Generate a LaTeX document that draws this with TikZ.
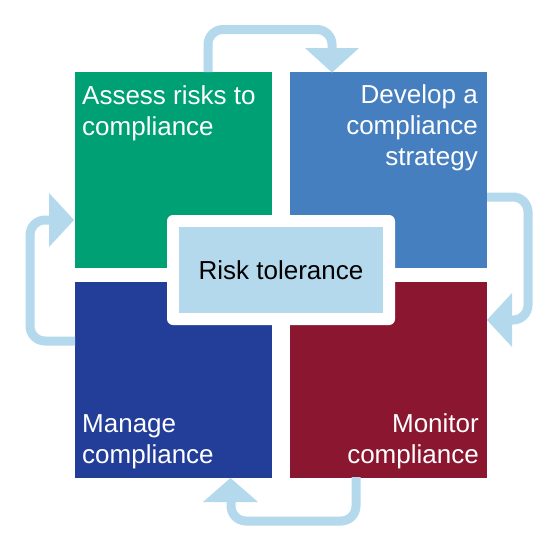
\documentclass[tikz,border=0pt]{standalone}
\usepackage{fontspec}
\setmainfont{Liberation Sans}
\definecolor{cgreen}{RGB}{0,160,117}
\definecolor{cblue}{RGB}{70,127,192}
\definecolor{cnavy}{RGB}{35,62,152}
\definecolor{cred}{RGB}{138,22,48}
\definecolor{clight}{RGB}{180,217,236}
\begin{document}
\begin{tikzpicture}[x=1pt,y=-1pt,
  quad/.style={minimum width=197pt,minimum height=196pt,inner sep=0pt,draw=none},
  lbl/.style={text=white,inner sep=0pt,font=\fontsize{26pt}{31pt}\selectfont},
  flow/.style={draw=clight,line width=9pt,rounded corners=15pt},
  head/.style={fill=clight,draw=none}]
\useasboundingbox (0,0) rectangle (560,552);
\fill[white] (0,0) rectangle (560,552);
% quadrants
\node[quad,fill=cgreen] (assess) at (173.5,170) {};
\node[quad,fill=cblue] (develop) at (388.5,170) {};
\node[quad,fill=cnavy] (manage) at (173.5,379.5) {};
\node[quad,fill=cred] (monitor) at (388.5,379.5) {};
% labels (anchored at the baseline of the last line)
\node[lbl,anchor=base west,align=left] (t1) at (82,135) {Assess risks to\\compliance};
\node[lbl,anchor=base east,align=right] (t2) at (478,165) {Develop a\\compliance\\strategy};
\node[lbl,anchor=base west,align=left] (t3) at (82,463) {Manage\\compliance};
\node[lbl,anchor=base east,align=right] (t4) at (479,463) {Monitor\\compliance};
% centre
\node[fill=white,rounded corners=6pt,minimum width=228pt,minimum height=110pt,inner sep=0pt] (frame) at (281,270) {};
\node[fill=clight,minimum width=204pt,minimum height=86pt,inner sep=0pt,text=black,font=\fontsize{26pt}{31pt}\selectfont] (risk) at (281,270) {Risk tolerance};
% arrows
\coordinate (a1) at (332,48);
\draw[flow] (208,72) -- (208,29.5) -- (332,29.5) -- (a1);
\fill[head] (305,48) -- (359,48) -- (332,72.5) -- cycle;
\coordinate (a2) at (512,320);
\draw[flow] (487,197) -- (528,197) -- (528,320) -- (a2);
\fill[head] (512,293) -- (512,347) -- (487,320) -- cycle;
\coordinate (a3) at (231,502);
\draw[flow] (356,477) -- (356,521) -- (231,521) -- (a3);
\fill[head] (203,502) -- (258,502) -- (230.5,478) -- cycle;
\coordinate (a4) at (49,220);
\draw[flow] (75,341) -- (30,341) -- (30,220) -- (a4);
\fill[head] (49,193) -- (49,247) -- (74,220) -- cycle;
\end{tikzpicture}
\end{document}
